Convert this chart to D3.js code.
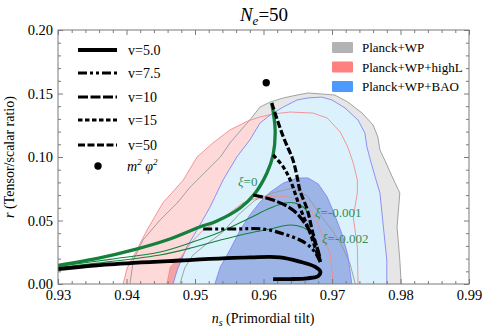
<!DOCTYPE html>
<html>
<head>
<meta charset="utf-8">
<script src="https://cdn.jsdelivr.net/npm/d3@7"></script>
<style>
body { margin: 0; background: #fff; }
svg { display: block; font-family: "Liberation Serif", "Times New Roman", serif; }
</style>
</head>
<body>
<svg id="chart" width="485" height="330"></svg>
<script>
// ---- data (ns, r) ----
const xTickLabels = ["0.93", "0.94", "0.95", "0.96", "0.97", "0.98", "0.99"];
const yTickLabels = ["0.00", "0.05", "0.10", "0.15", "0.20"];

// Planck contours, 95% and 68%
const planckWP95 = [[0.9405,0],[0.9410,0.0189],[0.9424,0.0346],[0.9449,0.0504],[0.9474,0.0638],[0.9493,0.0764],[0.9518,0.0898],[0.9537,0.1000],[0.9551,0.1110],[0.9566,0.1205],[0.9580,0.1291],[0.9595,0.1394],[0.9610,0.1433],[0.9629,0.1465],[0.9649,0.1488],[0.9665,0.1504],[0.9685,0.1496],[0.9704,0.1488],[0.9723,0.1433],[0.9744,0.1346],[0.9760,0.1252],[0.9767,0.1157],[0.9770,0.1055],[0.9777,0.0976],[0.9788,0.0843],[0.9799,0.0717],[0.9795,0.0449],[0.9799,0.0189],[0.9801,0]];
const planckWP68 = [[0.9478,0],[0.9485,0.0126],[0.9497,0.0228],[0.9515,0.0307],[0.9539,0.0402],[0.9566,0.0559],[0.9588,0.0661],[0.9614,0.0717],[0.9643,0.0756],[0.9664,0.0693],[0.9683,0.0543],[0.9702,0.0409],[0.9716,0.0283],[0.9726,0.0165],[0.9734,0]];
const highL95 = [[0.9395,0],[0.9401,0.0126],[0.9415,0.0268],[0.9430,0.0425],[0.9453,0.0638],[0.9483,0.0819],[0.9503,0.1000],[0.9526,0.1110],[0.9551,0.1213],[0.9577,0.1283],[0.9595,0.1315],[0.9614,0.1339],[0.9639,0.1354],[0.9672,0.1346],[0.9693,0.1307],[0.9712,0.1197],[0.9723,0.1079],[0.9731,0.0953],[0.9737,0.0819],[0.9737,0.0717],[0.9731,0.0528],[0.9737,0.0291],[0.9738,0]];
const highL68 = [[0.9459,0],[0.9464,0.0134],[0.9480,0.0215],[0.9495,0.0330],[0.9512,0.0425],[0.9537,0.0504],[0.9570,0.0638],[0.9595,0.0685],[0.9624,0.0693],[0.9646,0.0677],[0.9661,0.0638],[0.9671,0.0567],[0.9680,0.0465],[0.9688,0.0362],[0.9697,0.0244],[0.9702,0]];
const bao95 = [[0.9468,0],[0.9474,0.0110],[0.9488,0.0291],[0.9503,0.0425],[0.9522,0.0606],[0.9541,0.0819],[0.9561,0.1000],[0.9580,0.1134],[0.9595,0.1268],[0.9610,0.1331],[0.9629,0.1394],[0.9649,0.1449],[0.9665,0.1465],[0.9685,0.1472],[0.9700,0.1449],[0.9719,0.1386],[0.9738,0.1291],[0.9748,0.1189],[0.9751,0.1079],[0.9756,0.0976],[0.9763,0.0843],[0.9770,0.0717],[0.9775,0.0449],[0.9780,0.0189],[0.9780,0]];
const bao68 = [[0.9529,0],[0.9537,0.0134],[0.9551,0.0268],[0.9566,0.0425],[0.9580,0.0543],[0.9595,0.0646],[0.9610,0.0724],[0.9629,0.0795],[0.9649,0.0835],[0.9665,0.0835],[0.9680,0.0787],[0.9693,0.0685],[0.9704,0.0543],[0.9715,0.0386],[0.9723,0.0228],[0.9729,0]];

// fixed xi curves
const xi0 = [[0.9300,0.0146],[0.9361,0.0205],[0.9410,0.0268],[0.9459,0.0346],[0.9507,0.0449],[0.9532,0.0496],[0.9566,0.0598],[0.9588,0.0717],[0.9605,0.0874],[0.9614,0.1016],[0.9617,0.1213],[0.9612,0.1425]];
const xiM001 = [[0.9300,0.0138],[0.9376,0.0194],[0.9449,0.0252],[0.9497,0.0331],[0.9537,0.0409],[0.9580,0.0520],[0.9610,0.0598],[0.9631,0.0638],[0.9646,0.0638],[0.9658,0.0606],[0.9666,0.0551]];
const xiM002 = [[0.9300,0.0130],[0.9376,0.0176],[0.9449,0.0228],[0.9497,0.0287],[0.9537,0.0346],[0.9580,0.0402],[0.9610,0.0433],[0.9639,0.0465],[0.9656,0.0449],[0.9671,0.0402]];

// fixed v curves
const v5 = [[0.9300,0.0118],[0.9376,0.0155],[0.9478,0.0185],[0.9580,0.0209],[0.9624,0.0210],[0.9653,0.0176],[0.9675,0.0136],[0.9683,0.0097],[0.9680,0.0063],[0.9664,0.0045],[0.9639,0.0039],[0.9614,0.0039]];
const v75 = [[0.9512,0.0433],[0.9558,0.0433],[0.9599,0.0433],[0.9634,0.0386],[0.9661,0.0323],[0.9675,0.0252],[0.9683,0.0173]];
const v10 = [[0.9585,0.0701],[0.9614,0.0661],[0.9643,0.0583],[0.9664,0.0449],[0.9678,0.0291],[0.9683,0.0189]];
const v15 = [[0.9614,0.1016],[0.9629,0.0921],[0.9639,0.0819],[0.9653,0.0606],[0.9668,0.0402],[0.9678,0.0244],[0.9683,0.0173]];
const v50 = [[0.9612,0.1425],[0.9629,0.1157],[0.9643,0.0976],[0.9650,0.0819],[0.9653,0.0740],[0.9664,0.0583],[0.9672,0.0402],[0.9680,0.0244],[0.9683,0.0173]];

const m2phi2 = [0.9604, 0.1585];

const vNames = ["v=5.0", "v=7.5", "v=10", "v=15", "v=50"];
const contourNames = ["Planck+WP", "Planck+WP+highL", "Planck+WP+BAO"];

// ---- layout ----
const svg = d3.select("#chart");
const plotL = 58, plotR = 469, plotT = 30, plotB = 284;
const x = d3.scaleLinear().domain([0.93, 0.99]).range([plotL, plotR]);
const y = d3.scaleLinear().domain([0, 0.2]).range([plotB, plotT]);

svg.append("clipPath").attr("id", "plotClip")
  .append("rect").attr("x", plotL).attr("y", plotT).attr("width", plotR - plotL).attr("height", plotB - plotT);

const plot = svg.append("g").attr("clip-path", "url(#plotClip)");

const contourLine = d3.line().x(d => x(d[0])).y(d => y(d[1]));
const curveLine = d3.line().x(d => x(d[0])).y(d => y(d[1])).curve(d3.curveCatmullRom.alpha(0.5));

// fills, back to front
const fills = [
  [planckWP95, "#e6e6e6"],
  [highL95, "#fdd9d9"],
  [highL68, "#f2a3a3"],
  [bao95, "#dbf2fc"],
  [bao68, "#9db5e6"]
];
fills.forEach(([pts, col]) => {
  plot.append("path").attr("d", contourLine(pts) + "Z").attr("fill", col).attr("stroke", "none");
});

// outlines on top
const outlines = [
  [planckWP95, "#999999"],
  [highL95, "#f58a8a"],
  [bao95, "#8585f5"],
  [planckWP68, "#999999"],
  [highL68, "#f58a8a"],
  [bao68, "#8585f5"]
];
outlines.forEach(([pts, col]) => {
  plot.append("path").attr("d", contourLine(pts)).attr("fill", "none")
    .attr("stroke", col).attr("stroke-width", 0.9);
});

// green xi curves
const green = "#15803c";
[xiM001, xiM002].forEach(pts => {
  plot.append("path").attr("d", curveLine(pts)).attr("fill", "none")
    .attr("stroke", green).attr("stroke-width", 1.1);
});
plot.append("path").attr("d", curveLine(xi0)).attr("fill", "none")
  .attr("stroke", green).attr("stroke-width", 3.3);

// black v curves
const vStyles = [
  [v5, null, 3.8],
  [v75, "9,3,3,3,3,3", 3.2],
  [v10, "10,2.5", 3.2],
  [v15, "4.5,2.5", 3.2],
  [v50, "7,2.5", 3.2]
];
vStyles.forEach(([pts, dash, w]) => {
  plot.append("path").attr("d", curveLine(pts)).attr("fill", "none")
    .attr("stroke", "#000").attr("stroke-width", w)
    .attr("stroke-dasharray", dash);
});

plot.append("circle").attr("cx", x(m2phi2[0])).attr("cy", y(m2phi2[1])).attr("r", 3.7).attr("fill", "#000");

// xi labels
const labelGreen = "#2f8f52";
function xiLabel(px, py, val) {
  const t = svg.append("text").attr("x", px).attr("y", py).attr("font-size", 13).attr("fill", labelGreen);
  t.append("tspan").attr("font-style", "italic").text("ξ");
  t.append("tspan").text("=" + val);
}
xiLabel(238, 186, "0");
xiLabel(315, 217, "-0.001");
xiLabel(322, 243, "-0.002");

// ---- frame and ticks ----
const axisCol = "#7a7a7a";
const xMajor = xTickLabels.map(Number);
const xMinor = d3.range(0, 31).map(i => 0.93 + i * 0.002).filter(v => !xMajor.some(m => Math.abs(m - v) < 1e-6));
const yMajor = yTickLabels.map(Number);
const yMinor = d3.range(0, 21).map(i => i * 0.01).filter(v => !yMajor.some(m => Math.abs(m - v) < 1e-6));

function styleAxis(g) {
  g.select(".domain").remove();
  g.selectAll(".tick line").attr("stroke", axisCol);
  g.selectAll(".tick text").attr("fill", "#000").attr("font-size", 14.5)
    .attr("font-family", "'Liberation Serif', 'Times New Roman', serif");
}

svg.append("g").attr("transform", `translate(0,${plotB})`)
  .call(d3.axisBottom(x).tickValues(xMajor).tickFormat((d, i) => xTickLabels[i]).tickSize(-5).tickPadding(6))
  .call(styleAxis);
svg.append("g").attr("transform", `translate(0,${plotB})`)
  .call(d3.axisBottom(x).tickValues(xMinor).tickFormat("").tickSize(-3)).call(styleAxis);
svg.append("g").attr("transform", `translate(0,${plotT})`)
  .call(d3.axisTop(x).tickValues(xMajor).tickFormat("").tickSize(-5)).call(styleAxis);
svg.append("g").attr("transform", `translate(0,${plotT})`)
  .call(d3.axisTop(x).tickValues(xMinor).tickFormat("").tickSize(-3)).call(styleAxis);

svg.append("g").attr("transform", `translate(${plotL},0)`)
  .call(d3.axisLeft(y).tickValues(yMajor).tickFormat((d, i) => yTickLabels[i]).tickSize(-5).tickPadding(5))
  .call(styleAxis);
svg.append("g").attr("transform", `translate(${plotL},0)`)
  .call(d3.axisLeft(y).tickValues(yMinor).tickFormat("").tickSize(-3)).call(styleAxis);
svg.append("g").attr("transform", `translate(${plotR},0)`)
  .call(d3.axisRight(y).tickValues(yMajor).tickFormat("").tickSize(-5)).call(styleAxis);
svg.append("g").attr("transform", `translate(${plotR},0)`)
  .call(d3.axisRight(y).tickValues(yMinor).tickFormat("").tickSize(-3)).call(styleAxis);

svg.append("rect").attr("x", plotL).attr("y", plotT).attr("width", plotR - plotL).attr("height", plotB - plotT)
  .attr("fill", "none").attr("stroke", axisCol).attr("stroke-width", 1);

// ---- title and axis labels ----
const title = svg.append("text").attr("x", 264).attr("y", 21).attr("text-anchor", "middle").attr("font-size", 19);
title.append("tspan").attr("font-style", "italic").text("N");
title.append("tspan").attr("font-style", "italic").attr("font-size", 13).attr("dy", 4).text("e");
title.append("tspan").attr("dy", -4).text("=50");

const xl = svg.append("text").attr("x", 263).attr("y", 323).attr("text-anchor", "middle").attr("font-size", 14);
xl.append("tspan").attr("font-style", "italic").text("n");
xl.append("tspan").attr("font-style", "italic").attr("font-size", 10).attr("dy", 3).text("s");
xl.append("tspan").attr("dy", -3).text(" (Primordial tilt)");

const yl = svg.append("text").attr("transform", "translate(14,157) rotate(-90)").attr("text-anchor", "middle").attr("font-size", 14);
yl.append("tspan").attr("font-style", "italic").text("r");
yl.append("tspan").text(" (Tensor/scalar ratio)");

// ---- left legend ----
const legRows = [50, 73, 97, 120, 145];
vStyles.forEach(([pts, dash, w], i) => {
  svg.append("line").attr("x1", 78).attr("x2", 117).attr("y1", legRows[i]).attr("y2", legRows[i])
    .attr("stroke", "#000").attr("stroke-width", w).attr("stroke-dasharray", dash);
  svg.append("text").attr("x", 128).attr("y", legRows[i] + 4.5).attr("font-size", 14).text(vNames[i]);
});
svg.append("circle").attr("cx", 98).attr("cy", 166).attr("r", 3.7).attr("fill", "#000");
const mt = svg.append("text").attr("x", 127).attr("y", 171).attr("font-size", 14).attr("font-style", "italic");
mt.append("tspan").text("m");
mt.append("tspan").attr("font-size", 9).attr("dy", -6).text("2");
mt.append("tspan").attr("dy", 6).text(" φ");
mt.append("tspan").attr("font-size", 9).attr("dy", -6).text("2");

// ---- right legend ----
const swatchCols = ["#b3b3b3", "#ff8080", "#4d9aff"];
const swRows = [47.5, 67, 86.5];
contourNames.forEach((name, i) => {
  svg.append("rect").attr("x", 332).attr("y", swRows[i] - 5.5).attr("width", 21).attr("height", 11)
    .attr("rx", 1).attr("fill", swatchCols[i]);
  svg.append("text").attr("x", 362).attr("y", swRows[i] + 4.5).attr("font-size", 13).text(name);
});
</script>
</body>
</html>
